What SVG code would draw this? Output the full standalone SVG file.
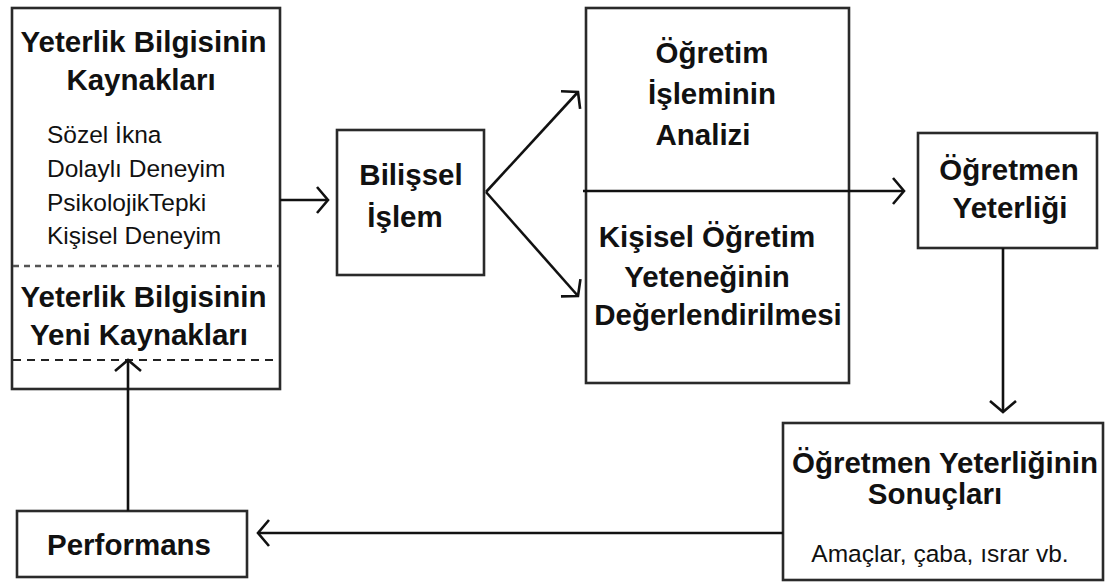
<svg xmlns="http://www.w3.org/2000/svg" width="1106" height="582" viewBox="0 0 1106 582">
<style>
.box{fill:none;stroke:#2a2a2a;stroke-width:2.6}
.t{font-family:"Liberation Sans",Arial,sans-serif;font-size:29.5px;font-weight:bold;fill:#111;text-anchor:middle}
.s{font-family:"Liberation Sans",Arial,sans-serif;font-size:24.5px;fill:#111}
.c{fill:none;stroke:#111;stroke-width:2.6}
.d1{stroke:#555;stroke-width:2.4;stroke-dasharray:6 5}
.d2{stroke:#222;stroke-width:2;stroke-dasharray:8 6}
</style>
<defs>
<marker id="ah" markerUnits="userSpaceOnUse" viewBox="-14 -16 16 32" refX="0" refY="0" markerWidth="16" markerHeight="32" orient="auto" overflow="visible">
<path d="M-11,-13 L0,0 L-11,13" fill="none" stroke="#111" stroke-width="2.6"/>
</marker>
</defs>
<rect width="1106" height="582" fill="#fff"/>
<g id="kaynaklar">
<rect class="box" x="12" y="8" width="268" height="381"/>
<text class="t" x="143.5" y="52">Yeterlik Bilgisinin</text>
<text class="t" x="141" y="90">Kaynakları</text>
<text class="s" x="47" y="143">Sözel İkna</text>
<text class="s" x="47" y="177">Dolaylı Deneyim</text>
<text class="s" x="47" y="211">PsikolojikTepki</text>
<text class="s" x="47" y="244">Kişisel Deneyim</text>
<line class="d1" x1="13" y1="266" x2="279" y2="266"/>
<text class="t" x="143.5" y="307">Yeterlik Bilgisinin</text>
<text class="t" x="139" y="345">Yeni Kaynakları</text>
<line class="d2" x1="13" y1="360" x2="279" y2="360"/>
</g>
<g id="bilissel">
<rect class="box" x="337" y="130" width="147" height="145"/>
<text class="t" x="411" y="185">Bilişsel</text>
<text class="t" x="405" y="227">İşlem</text>
</g>
<g id="ogretim">
<rect class="box" x="586" y="8" width="263" height="375"/>
<text class="t" x="712" y="63">Öğretim</text>
<text class="t" x="712" y="104">İşleminin</text>
<text class="t" x="703" y="145">Analizi</text>
<text class="t" x="707" y="247">Kişisel Öğretim</text>
<text class="t" x="707" y="287">Yeteneğinin</text>
<text class="t" x="718" y="325">Değerlendirilmesi</text>
</g>
<g id="yeterlik">
<rect class="box" x="918" y="133" width="179" height="115"/>
<text class="t" x="1009" y="180">Öğretmen</text>
<text class="t" x="1010" y="218">Yeterliği</text>
</g>
<g id="sonuclar">
<rect class="box" x="783" y="423" width="320" height="157"/>
<text class="t" x="945" y="473">Öğretmen Yeterliğinin</text>
<text class="t" x="935" y="504">Sonuçları</text>
<text class="s" x="940" y="562" text-anchor="middle">Amaçlar, çaba, ısrar vb.</text>
</g>
<g id="performans">
<rect class="box" x="17" y="511" width="230" height="66"/>
<text class="t" x="129" y="555">Performans</text>
</g>
<g id="connectors">
<path class="c" d="M280,200 H328" marker-end="url(#ah)"/>
<path class="c" d="M486,192 L578,92" marker-end="url(#ah)"/>
<path class="c" d="M486,192 L578,296" marker-end="url(#ah)"/>
<path class="c" d="M583,191 H904" marker-end="url(#ah)"/>
<path class="c" d="M1003,248 V412" marker-end="url(#ah)"/>
<path class="c" d="M783,533 H258" marker-end="url(#ah)"/>
<path class="c" d="M128,511 V360" marker-end="url(#ah)"/>
</g>
</svg>
